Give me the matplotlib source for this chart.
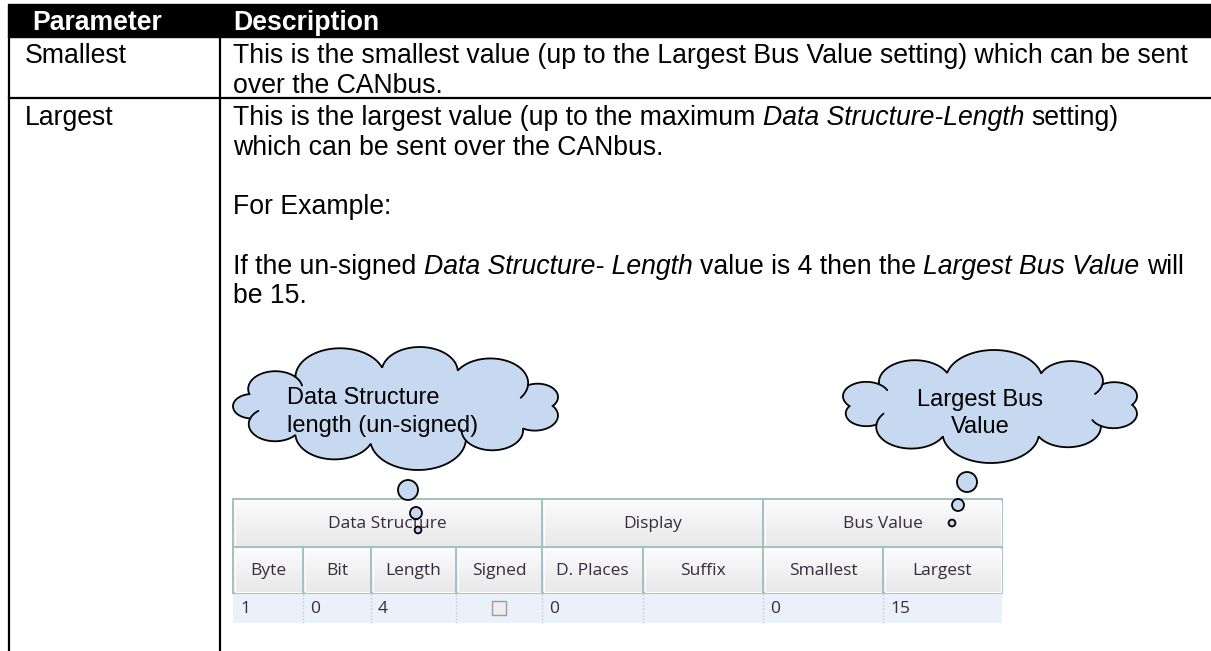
import numpy as np
import matplotlib.pyplot as plt
from matplotlib.patches import Rectangle, Circle, Polygon
from matplotlib.colors import LinearSegmentedColormap

plt.rcParams['font.family'] = ['Liberation Sans', 'DejaVu Sans']

# ---- content ----
header = ['Parameter', 'Description']
params = ['Smallest', 'Largest']
desc_smallest = ['This is the smallest value (up to the Largest Bus Value setting) which can be sent',
                 'over the CANbus.']
# words between * are italic
desc_largest = ['This is the largest value (up to the maximum *Data Structure-Length* setting)',
                'which can be sent over the CANbus.',
                '',
                'For Example:',
                '',
                'If the un-signed *Data Structure- Length* value is 4 then the *Largest Bus Value* will',
                'be 15.']
cloud_left_text = ['Data Structure', 'length (un-signed)']
cloud_right_text = ['Largest Bus', 'Value']

group_labels = ['Data Structure', 'Display', 'Bus Value']
group_spans = [4, 2, 2]
column_labels = ['Byte', 'Bit', 'Length', 'Signed', 'D. Places', 'Suffix', 'Smallest', 'Largest']
row_values = ['1', '0', '4', None, '0', '', '0', '15']   # None -> checkbox

W, H = 1211, 651
BODY = 19.2
LINE = 29.7

fig = plt.figure(figsize=(W / 100, H / 100), dpi=100)
ax = fig.add_axes([0, 0, 1, 1])
ax.axis('off')
ax.set_xlim(0, W)
ax.set_ylim(H, 0)
rend = fig.canvas.get_renderer()
space_w = 0.2778 * BODY * 100 / 72


def draw_runs(x, y, line, size=BODY):
    for k, part in enumerate(line.split('*')):
        if not part:
            continue
        x += (len(part) - len(part.lstrip(' '))) * space_w
        core = part.strip(' ')
        t = ax.text(x, y, core, fontsize=size, style='italic' if k % 2 else 'normal',
                    va='baseline', ha='left', color='black')
        x += t.get_window_extent(rend).width
        x += (len(part) - len(part.rstrip(' '))) * space_w


def cloud(box, n, offs, k, inner, ext=0.55):
    x0, x1, y0, y1 = box
    a, b = (x1 - x0) / 2, (y1 - y0) / 2
    th = 2 * np.pi * (np.arange(n) + np.array(offs)) / n
    pts = np.c_[a * np.cos(th), b * np.sin(th)]
    outline, strokes = [], []
    for i in range(n):
        P, Q = pts[i], pts[(i + 1) % n]
        d = Q - P
        c = np.hypot(*d)
        M = (P + Q) / 2
        nrm = np.array([d[1], -d[0]]) / c
        if np.dot(nrm, M) < 0:
            nrm = -nrm
        h = k[i] * c
        R = (c * c / 4 + h * h) / (2 * h)
        O = M + nrm * (h - R)
        aP = np.arctan2(*(P - O)[::-1])
        aN = np.arctan2(nrm[1], nrm[0])
        dl = (aN - aP + np.pi) % (2 * np.pi) - np.pi
        ang = aP + np.linspace(0, 2 * dl, 40)
        outline.append(O + R * np.c_[np.cos(ang), np.sin(ang)])
        if i in inner:
            ea = aP + 2 * dl + np.sign(dl) * np.linspace(0, ext, 15)
            strokes.append(O + R * np.c_[np.cos(ea), np.sin(ea)])
    outline = np.vstack(outline)
    lo, hi = outline.min(0), outline.max(0)
    sc = np.array([(x1 - x0) / (hi[0] - lo[0]), (y1 - y0) / (hi[1] - lo[1])])
    tr = lambda p: (p - lo) * sc + np.array([x0, y0])
    ax.add_patch(Polygon(tr(outline), closed=True, fc='#c6d9f1', ec='black', lw=1.3, zorder=3))
    for s in strokes:
        ax.plot(*tr(s).T, color='black', lw=1.3, zorder=4, solid_capstyle='round')


# ---- document table ----
ax.add_patch(Rectangle((8, 4), W - 8, 33, color='black', zorder=2))
ax.text(32, 30, header[0], color='white', weight='bold', fontsize=BODY, va='baseline')
ax.text(233, 30, header[1], color='white', weight='bold', fontsize=BODY, va='baseline')
ax.plot([9, 9], [37, H], color='black', lw=1.6)
ax.plot([220, 220], [37, H], color='black', lw=1.6)
ax.plot([9, W], [98, 98], color='black', lw=1.6)

ax.text(25, 63, params[0], fontsize=BODY, va='baseline')
for i, ln in enumerate(desc_smallest):
    draw_runs(233, 63 + i * LINE, ln)
ax.text(25, 125, params[1], fontsize=BODY, va='baseline')
for i, ln in enumerate(desc_largest):
    if ln:
        draw_runs(233, 125 + i * LINE, ln)

# ---- thought clouds ----
cloud((233, 558, 347, 470), 11, [0, .1, -.05, .05, 0, -.08, .05, 0, .08, -.05, 0],
      [.42, .4, .45, .4, .42, .45, .4, .42, .45, .4, .42], inner=[1, 4, 6, 9])
for i, s in enumerate(cloud_left_text):
    ax.text(287, 404 + i * 28, s, fontsize=17, va='baseline', zorder=5)
cloud((843, 1137, 350, 463), 10, [0, .08, -.05, .05, 0, -.06, .05, 0, .08, -.05],
      [.42, .4, .45, .42, .4, .45, .42, .4, .45, .42], inner=[0, 3, 5, 8])
for i, s in enumerate(cloud_right_text):
    ax.text(980, 406 + i * 27, s, fontsize=17, va='baseline', ha='center', zorder=5)

# ---- screenshot of the configuration grid ----
col_edges = [233, 303, 371, 456, 542, 643, 763, 883, 1002]
y_top, y_grp, y_col, y_bot = 499, 547, 593, 623
grad = LinearSegmentedColormap.from_list('hdr', ['#fcfcfc', '#e8e8e8'])
TFONT = dict(family=['Open Sans', 'DejaVu Sans'], fontsize=12.5, color='#332c3d')


def header_cell(x0, x1, y0, y1, label):
    ax.imshow(np.linspace(0, 1, 32)[:, None], extent=(x0, x1, y1, y0), cmap=grad,
              aspect='auto', zorder=1)
    ax.add_patch(Rectangle((x0, y0), x1 - x0, y1 - y0, fill=False, ec='#a3c1c1', lw=1.4, zorder=2))
    ax.add_patch(Rectangle((x0 + 1.5, y0 + 1.5), x1 - x0 - 3, y1 - y0 - 3, fill=False,
                           ec='white', lw=0.8, zorder=2))
    ax.text((x0 + x1) / 2, (y0 + y1) / 2 + 1, label, ha='center', va='center', zorder=2, **TFONT)


start = 0
for lab, span in zip(group_labels, group_spans):
    header_cell(col_edges[start], col_edges[start + span], y_top, y_grp, lab)
    start += span
for i, lab in enumerate(column_labels):
    header_cell(col_edges[i], col_edges[i + 1], y_grp, y_col, lab)

ax.add_patch(Rectangle((col_edges[0], y_col), col_edges[-1] - col_edges[0], y_bot - y_col,
                       fc='#eaf1fb', ec='none', zorder=1))
for i, v in enumerate(row_values):
    x0, x1 = col_edges[i], col_edges[i + 1]
    if i > 0:
        ax.plot([x0, x0], [y_col + 1, y_bot], color='#c4c8cc', lw=1, ls=(0, (1, 1.5)), zorder=2)
    if v is None:
        cx = (x0 + x1) / 2
        ax.add_patch(Rectangle((cx - 7, 601), 14, 14, fc='#eeeeee', ec='#9c9c9c', lw=1, zorder=2))
    elif v:
        ax.text(x0 + 7, (y_col + y_bot) / 2 + 1, v, ha='left', va='center', zorder=2, **TFONT)

# small thought bubbles
for cx, cy, rad in [(408, 490, 10), (416, 513, 6), (418, 530, 3.4),
                    (967, 482, 10), (958, 505, 6), (952, 523, 3.4)]:
    ax.add_patch(Circle((cx, cy), rad, fc='#c6d9f1', ec='black', lw=1.3, zorder=6))

ax.set_xlim(0, W)
ax.set_ylim(H, 0)
fig.savefig('out.png', dpi=100)
